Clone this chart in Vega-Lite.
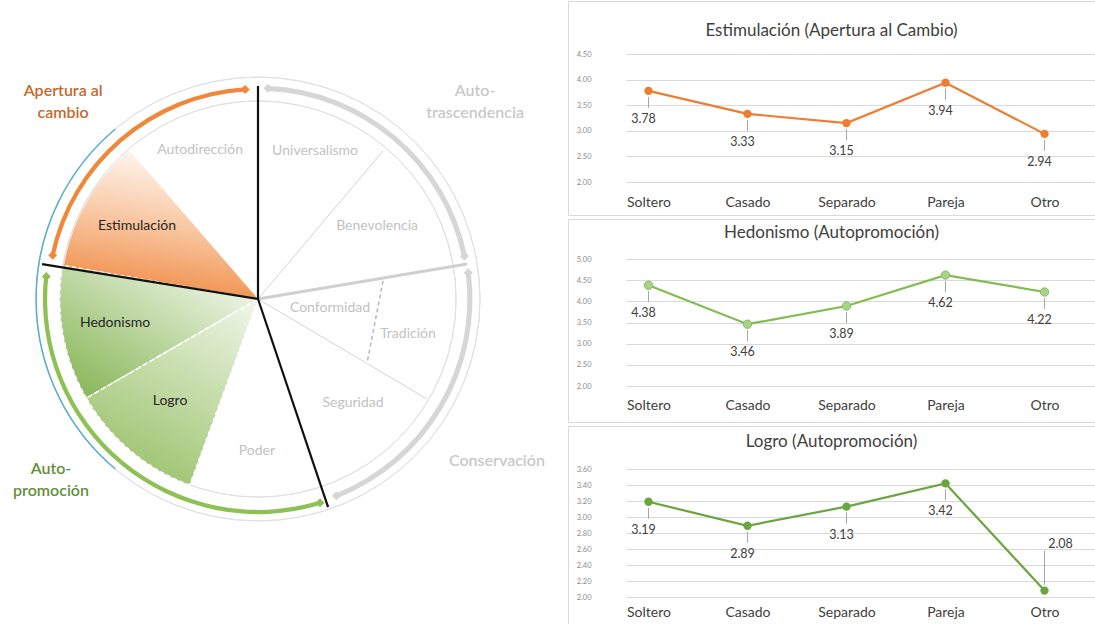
{
  "$schema": "https://vega.github.io/schema/vega-lite/v6.json",
  "padding": 0,
  "spacing": 0,
  "background": "white",
  "config": {
    "font": "Lato",
    "view": {"stroke": "#d9d9d9"},
    "title": {"font": "Lato", "fontSize": 17, "fontWeight": "normal", "color": "#404040", "anchor": "middle"},
    "axis": {"labelFont": "Lato", "domain": false, "ticks": false},
    "axisX": {"grid": false, "labelFontSize": 14, "labelColor": "#404040", "labelPadding": 0, "offset": -20},
    "axisY": {"grid": true, "gridColor": "#d9d9d9", "labelFontSize": 7.5, "labelColor": "#8c8c8c", "offset": -27, "labelPadding": 4}
  },
  "hconcat": [
    {
      "width": 567,
      "height": 624,
      "view": {"stroke": null},
      "layer": [
        {
          "data": {"values": [{"a0": 0, "a1": 360, "r": 104.2}, {"a0": 0, "a1": 360, "r": 93}]},
          "mark": {"type": "arc", "filled": false, "color": "#e0e0e0", "strokeWidth": 1},
          "encoding": {
            "x": {"datum": 0, "type": "quantitative", "scale": {"domain": [-121.13, 145.07], "nice": false, "zero": false}, "axis": null},
            "y": {"datum": 0, "type": "quantitative", "scale": {"domain": [-153.05, 139.91], "nice": false, "zero": false}, "axis": null},
            "theta": {"field": "a0", "type": "quantitative", "stack": null, "scale": {"type": "linear", "domain": [0, 360], "range": [0, 6.283185], "zero": false}},
            "theta2": {"field": "a1"},
            "radius": {"field": "r", "type": "quantitative", "scale": {"type": "linear", "domain": [0, 100], "range": [0, 213], "zero": false}},
            "radius2": {"field": "r"}
          }
        },
        {
          "data": {"values": [{"a0": 220, "a1": 320, "r": 104.2}]},
          "mark": {"type": "arc", "filled": false, "color": "#5aafcc", "strokeWidth": 1.5},
          "encoding": {
            "x": {"datum": 0, "type": "quantitative"},
            "y": {"datum": 0, "type": "quantitative"},
            "theta": {"field": "a0", "type": "quantitative", "stack": null},
            "theta2": {"field": "a1"},
            "radius": {"field": "r", "type": "quantitative"},
            "radius2": {"field": "r"}
          }
        },
        {
          "data": {"values": [{"valor": "Estimulación", "a0": 279.8, "a1": 319.1, "r0": 0, "r1": 92.5}]},
          "mark": {"type": "arc", "fill": {"gradient": "linear", "x1": 0.55, "y1": 0, "x2": 0.35, "y2": 1, "stops": [{"offset": 0, "color": "#fffaf6"}, {"offset": 0.5, "color": "#f8c6a0"}, {"offset": 1, "color": "#f08840"}]}},
          "encoding": {
            "x": {"datum": 0, "type": "quantitative"},
            "y": {"datum": 0, "type": "quantitative"},
            "theta": {"field": "a0", "type": "quantitative", "stack": null},
            "theta2": {"field": "a1"},
            "radius": {"field": "r1", "type": "quantitative"},
            "radius2": {"field": "r0"}
          }
        },
        {
          "data": {"values": [{"valor": "Hedonismo", "a0": 240, "a1": 279.8, "r0": 0, "r1": 93}]},
          "mark": {"type": "arc", "stroke": "white", "strokeWidth": 1.2, "strokeDash": [4, 3], "fill": {"gradient": "linear", "x1": 0.95, "y1": 0.05, "x2": 0.1, "y2": 0.95, "stops": [{"offset": 0, "color": "#f6faf1"}, {"offset": 1, "color": "#8ab85b"}]}},
          "encoding": {
            "x": {"datum": 0, "type": "quantitative"},
            "y": {"datum": 0, "type": "quantitative"},
            "theta": {"field": "a0", "type": "quantitative", "stack": null},
            "theta2": {"field": "a1"},
            "radius": {"field": "r1", "type": "quantitative"},
            "radius2": {"field": "r0"}
          }
        },
        {
          "data": {"values": [{"valor": "Logro", "a0": 200.2, "a1": 240, "r0": 0, "r1": 93}]},
          "mark": {"type": "arc", "stroke": "white", "strokeWidth": 1.2, "strokeDash": [4, 3], "fill": {"gradient": "linear", "x1": 0.9, "y1": 0, "x2": 0.4, "y2": 1, "stops": [{"offset": 0, "color": "#eef5e6"}, {"offset": 0.4, "color": "#cde1b5"}, {"offset": 1, "color": "#9cc46e"}]}},
          "encoding": {
            "x": {"datum": 0, "type": "quantitative"},
            "y": {"datum": 0, "type": "quantitative"},
            "theta": {"field": "a0", "type": "quantitative", "stack": null},
            "theta2": {"field": "a1"},
            "radius": {"field": "r1", "type": "quantitative"},
            "radius2": {"field": "r0"}
          }
        },
        {
          "data": {"values": [{"x": 0, "y": 0, "x2": 58.7, "y2": 69.5}, {"x": 0, "y": 0, "x2": 79.3, "y2": -46.9}]},
          "mark": {"type": "rule", "color": "#d4d4d4", "strokeWidth": 1},
          "encoding": {
            "x": {"field": "x", "type": "quantitative"},
            "y": {"field": "y", "type": "quantitative"},
            "x2": {"field": "x2"},
            "y2": {"field": "y2"}
          }
        },
        {
          "data": {"values": [{"x": 0, "y": 0, "x2": 98.1, "y2": 16.4}]},
          "mark": {"type": "rule", "color": "#cfcfcf", "strokeWidth": 3},
          "encoding": {
            "x": {"field": "x", "type": "quantitative"},
            "y": {"field": "y", "type": "quantitative"},
            "x2": {"field": "x2"},
            "y2": {"field": "y2"}
          }
        },
        {
          "data": {"values": [{"x": 58.7, "y": 8.5, "x2": 51.2, "y2": -30.0}]},
          "mark": {"type": "rule", "color": "#b8b8b8", "strokeWidth": 1.5, "strokeDash": [4, 3]},
          "encoding": {
            "x": {"field": "x", "type": "quantitative"},
            "y": {"field": "y", "type": "quantitative"},
            "x2": {"field": "x2"},
            "y2": {"field": "y2"}
          }
        },
        {
          "data": {"values": [{"x": 0, "y": 0, "x2": -81.2, "y2": -46.9}]},
          "mark": {"type": "rule", "color": "white", "strokeWidth": 1.5, "strokeDash": [5, 3]},
          "encoding": {
            "x": {"field": "x", "type": "quantitative"},
            "y": {"field": "y", "type": "quantitative"},
            "x2": {"field": "x2"},
            "y2": {"field": "y2"}
          }
        },
        {
          "data": {"values": [{"x": 0, "y": 0, "x2": 0, "y2": 100}, {"x": 0, "y": 0, "x2": -101.4, "y2": 16.4}, {"x": 0, "y": 0, "x2": 32.9, "y2": -97.7}]},
          "mark": {"type": "rule", "color": "#111111", "strokeWidth": 2.2},
          "encoding": {
            "x": {"field": "x", "type": "quantitative"},
            "y": {"field": "y", "type": "quantitative"},
            "x2": {"field": "x2"},
            "y2": {"field": "y2"}
          }
        },
        {
          "data": {"values": [
            {"arco": "Apertura al cambio", "a0": 282, "a1": 356.5, "r0": 97.6, "r1": 99.6},
            {"arco": "Autopromoción", "a0": 163.1, "a1": 276.1, "r0": 99, "r1": 101},
            {"arco": "Autotrascendencia", "a0": 2.7, "a1": 78.3, "r0": 97.8, "r1": 100.2},
            {"arco": "Conservación", "a0": 82.9, "a1": 158.3, "r0": 98.3, "r1": 100.7}
          ]},
          "mark": {"type": "arc"},
          "encoding": {
            "x": {"datum": 0, "type": "quantitative"},
            "y": {"datum": 0, "type": "quantitative"},
            "theta": {"field": "a0", "type": "quantitative", "stack": null},
            "theta2": {"field": "a1"},
            "radius": {"field": "r1", "type": "quantitative"},
            "radius2": {"field": "r0"},
            "color": {"field": "arco", "type": "nominal", "legend": null, "scale": {"domain": ["Apertura al cambio", "Autopromoción", "Autotrascendencia", "Conservación"], "range": ["#f0883a", "#8dc153", "#d6d6d6", "#d6d6d6"]}}
          }
        },
        {
          "data": {"values": [
            {"arco": "Apertura al cambio", "x": -96.4, "y": 20.5},
            {"arco": "Apertura al cambio", "x": -6.0, "y": 98.4},
            {"arco": "Autopromoción", "x": 29.1, "y": -95.7},
            {"arco": "Autopromoción", "x": -99.4, "y": 10.6},
            {"arco": "Autotrascendencia", "x": 4.66, "y": 98.9},
            {"arco": "Autotrascendencia", "x": 96.9, "y": 20.1},
            {"arco": "Conservación", "x": 98.7, "y": 12.3},
            {"arco": "Conservación", "x": 36.8, "y": -92.4}
          ]},
          "mark": {"type": "point", "shape": "diamond", "filled": true, "size": 80, "opacity": 1},
          "encoding": {
            "x": {"field": "x", "type": "quantitative"},
            "y": {"field": "y", "type": "quantitative"},
            "color": {"field": "arco", "type": "nominal", "legend": null}
          }
        },
        {
          "data": {"values": [{"t": "Apertura al\ncambio", "x": -91.5, "y": 97.7}]},
          "mark": {"type": "text", "fontSize": 16, "fontWeight": 600, "lineBreak": "\n", "lineHeight": 22, "align": "center", "baseline": "middle", "color": "#c5692b"},
          "encoding": {
            "x": {"field": "x", "type": "quantitative"},
            "y": {"field": "y", "type": "quantitative"},
            "text": {"field": "t"}
          }
        },
        {
          "data": {"values": [
            {"t": "Auto-\ntrascendencia", "x": 101.9, "y": 97.7},
            {"t": "Conservación", "x": 112.2, "y": -76.1}
          ]},
          "mark": {"type": "text", "fontSize": 16, "fontWeight": 600, "lineBreak": "\n", "lineHeight": 22, "align": "center", "baseline": "middle", "color": "#c9c9c9"},
          "encoding": {
            "x": {"field": "x", "type": "quantitative"},
            "y": {"field": "y", "type": "quantitative"},
            "text": {"field": "t"}
          }
        },
        {
          "data": {"values": [{"t": "Auto-\npromoción", "x": -97.2, "y": -79.8}]},
          "mark": {"type": "text", "fontSize": 16, "fontWeight": 600, "lineBreak": "\n", "lineHeight": 22, "align": "center", "baseline": "middle", "color": "#62903c"},
          "encoding": {
            "x": {"field": "x", "type": "quantitative"},
            "y": {"field": "y", "type": "quantitative"},
            "text": {"field": "t"}
          }
        },
        {
          "data": {"values": [
            {"t": "Autodirección", "x": -27.2, "y": 70.0},
            {"t": "Universalismo", "x": 26.8, "y": 69.5},
            {"t": "Benevolencia", "x": 55.9, "y": 34.3},
            {"t": "Conformidad", "x": 33.8, "y": -4.2},
            {"t": "Tradición", "x": 70.4, "y": -16.4},
            {"t": "Seguridad", "x": 44.6, "y": -48.8},
            {"t": "Poder", "x": -0.5, "y": -71.4}
          ]},
          "mark": {"type": "text", "fontSize": 14, "color": "#c2c2c2", "align": "center", "baseline": "middle"},
          "encoding": {
            "x": {"field": "x", "type": "quantitative"},
            "y": {"field": "y", "type": "quantitative"},
            "text": {"field": "t"}
          }
        },
        {
          "data": {"values": [
            {"t": "Estimulación", "x": -56.8, "y": 34.3},
            {"t": "Hedonismo", "x": -67.1, "y": -11.3},
            {"t": "Logro", "x": -41.3, "y": -47.9}
          ]},
          "mark": {"type": "text", "fontSize": 14, "color": "#262626", "align": "center", "baseline": "middle"},
          "encoding": {
            "x": {"field": "x", "type": "quantitative"},
            "y": {"field": "y", "type": "quantitative"},
            "text": {"field": "t"}
          }
        }
      ]
    },
    {
      "vconcat": [
        {
          "width": 527,
          "height": 214,
          "title": {"text": "Estimulación (Apertura al Cambio)", "offset": -39},
          "data": {"values": [
            {"estado": "Soltero", "valor": 3.78},
            {"estado": "Casado", "valor": 3.33},
            {"estado": "Separado", "valor": 3.15},
            {"estado": "Pareja", "valor": 3.94},
            {"estado": "Otro", "valor": 2.94}
          ]},
          "encoding": {
            "x": {"field": "estado", "type": "nominal", "scale": {"type": "point", "domain": ["Soltero", "Casado", "Separado", "Pareja", "Otro"], "range": [31, 526], "padding": 0.5}, "axis": {"title": null, "labelAngle": 0}},
            "y": {"field": "valor", "type": "quantitative", "scale": {"domain": [2, 4.5], "range": [181, 53], "nice": false, "zero": false}, "axis": {"title": null, "values": [2, 2.5, 3, 3.5, 4, 4.5], "format": ".2f"}}
          },
          "layer": [
            {"mark": {"type": "line", "color": "#ED7D31", "strokeWidth": 2.2}},
            {"mark": {"type": "rule", "color": "#a6a6a6", "yOffset": 6, "y2Offset": 17}, "encoding": {"y2": {"field": "valor"}}},
            {"mark": {"type": "point", "filled": true, "size": 70, "opacity": 1, "color": "#ED7D31"}},
            {"mark": {"type": "text", "dx": -5, "dy": 28, "fontSize": 12.5, "color": "#404040"}, "encoding": {"text": {"field": "valor", "type": "quantitative", "format": ".2f"}}}
          ]
        },
        {
          "width": 527,
          "height": 203,
          "title": {"text": "Hedonismo (Autopromoción)", "offset": -23},
          "data": {"values": [
            {"estado": "Soltero", "valor": 4.38},
            {"estado": "Casado", "valor": 3.46},
            {"estado": "Separado", "valor": 3.89},
            {"estado": "Pareja", "valor": 4.62},
            {"estado": "Otro", "valor": 4.22}
          ]},
          "encoding": {
            "x": {"field": "estado", "type": "nominal", "scale": {"type": "point", "domain": ["Soltero", "Casado", "Separado", "Pareja", "Otro"], "range": [31, 526], "padding": 0.5}, "axis": {"title": null, "labelAngle": 0, "offset": -24}},
            "y": {"field": "valor", "type": "quantitative", "scale": {"domain": [2, 5], "range": [167, 40], "nice": false, "zero": false}, "axis": {"title": null, "values": [2, 2.5, 3, 3.5, 4, 4.5, 5], "format": ".2f"}}
          },
          "layer": [
            {"mark": {"type": "line", "color": "#80bd4c", "strokeWidth": 2.2}},
            {"mark": {"type": "rule", "color": "#a6a6a6", "yOffset": 6, "y2Offset": 17}, "encoding": {"y2": {"field": "valor"}}},
            {"mark": {"type": "point", "filled": true, "size": 70, "opacity": 1, "color": "#a9d18e", "stroke": "#86bf55", "strokeWidth": 1}},
            {"mark": {"type": "text", "dx": -5, "dy": 28, "fontSize": 12.5, "color": "#404040"}, "encoding": {"text": {"field": "valor", "type": "quantitative", "format": ".2f"}}}
          ]
        },
        {
          "width": 527,
          "height": 203,
          "title": {"text": "Logro (Autopromoción)", "offset": -25},
          "data": {"values": [
            {"estado": "Soltero", "valor": 3.19},
            {"estado": "Casado", "valor": 2.89},
            {"estado": "Separado", "valor": 3.13},
            {"estado": "Pareja", "valor": 3.42},
            {"estado": "Otro", "valor": 2.08}
          ]},
          "encoding": {
            "x": {"field": "estado", "type": "nominal", "scale": {"type": "point", "domain": ["Soltero", "Casado", "Separado", "Pareja", "Otro"], "range": [31, 526], "padding": 0.5}, "axis": {"title": null, "labelAngle": 0, "offset": -24}},
            "y": {"field": "valor", "type": "quantitative", "scale": {"domain": [2, 3.6], "range": [171, 43], "nice": false, "zero": false}, "axis": {"title": null, "values": [2, 2.2, 2.4, 2.6, 2.8, 3, 3.2, 3.4, 3.6], "format": ".2f"}}
          },
          "layer": [
            {"mark": {"type": "line", "color": "#6aa63f", "strokeWidth": 2.2}},
            {"transform": [{"filter": "datum.estado !== 'Otro'"}], "mark": {"type": "rule", "color": "#a6a6a6", "yOffset": 6, "y2Offset": 17}, "encoding": {"y2": {"field": "valor"}}},
            {"transform": [{"filter": "datum.estado === 'Otro'"}], "mark": {"type": "rule", "color": "#a6a6a6", "yOffset": -6, "y2Offset": -40}, "encoding": {"y2": {"field": "valor"}}},
            {"mark": {"type": "point", "filled": true, "size": 70, "opacity": 1, "color": "#6aa63f"}},
            {"transform": [{"filter": "datum.estado !== 'Otro'"}], "mark": {"type": "text", "dx": -5, "dy": 28, "fontSize": 12.5, "color": "#404040"}, "encoding": {"text": {"field": "valor", "type": "quantitative", "format": ".2f"}}},
            {"transform": [{"filter": "datum.estado === 'Otro'"}], "mark": {"type": "text", "dx": 16, "dy": -47, "fontSize": 12.5, "color": "#404040"}, "encoding": {"text": {"field": "valor", "type": "quantitative", "format": ".2f"}}}
          ]
        }
      ],
      "spacing": 2
    }
  ]
}
